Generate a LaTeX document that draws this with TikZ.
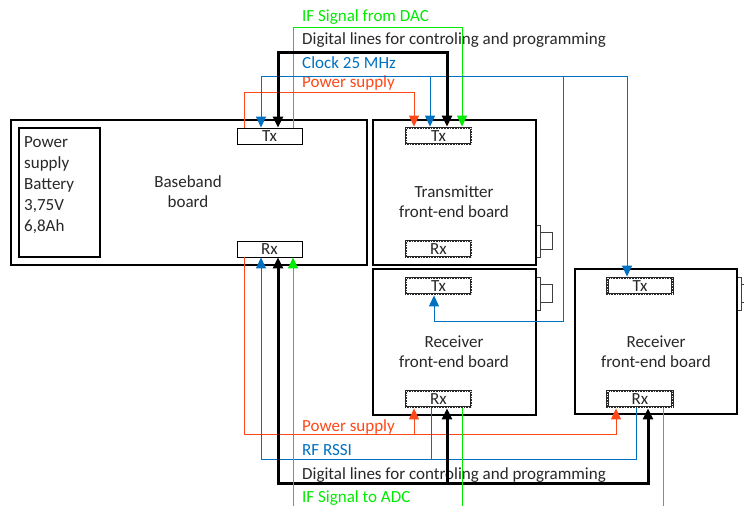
\documentclass[tikz,border=0pt]{standalone}
\usepackage{fontspec}
\setmainfont{Carlito}
\usetikzlibrary{arrows.meta}

\definecolor{pwred}{RGB}{255,72,24}
\definecolor{clkblue}{RGB}{0,112,192}
\definecolor{ifgreen}{RGB}{0,235,0}
\definecolor{txtgray}{RGB}{40,40,40}

\tikzset{
  board/.style={draw=black, line width=2pt, fill=white, inner sep=0pt},
  port/.style={draw=black, line width=0.9pt, fill=white, inner sep=0pt,
    minimum width=65pt, minimum height=16pt},
  feport/.style={draw=black!85, line width=2.8pt, fill=white, inner sep=0pt,
    minimum width=65pt, minimum height=16pt,
    postaction={draw=white, line width=0.9pt, dash pattern=on 0.9pt off 1.8pt}},
  plug/.style={draw=black!75, line width=1pt, fill=white},
  lbl/.style={anchor=west, inner sep=0pt},
  tip/.style={-{Triangle[length=11pt,width=10pt]}},
  tips/.style={{Triangle[length=11pt,width=10pt]}-{Triangle[length=11pt,width=10pt]}},
  pwline/.style={draw=pwred, line width=1pt},
  clkline/.style={draw=clkblue, line width=1pt},
  ifline/.style={draw=ifgreen, line width=1pt},
  digline/.style={draw=black, line width=3pt},
}

\begin{document}
\begin{tikzpicture}[x=1pt, y=-1pt, font=\fontsize{17}{20}\selectfont, text=txtgray]
  \useasboundingbox (0,0) rectangle (744,506);
  \clip (0,0) rectangle (744,506);

  % Boards
  \node[board, minimum width=356pt, minimum height=145pt] (bb) at (189,192.5) {};
  \node[board, minimum width=81pt, minimum height=129pt] (bat) at (59.5,192.5) {};
  \node[anchor=west, align=left, inner sep=0pt, font=\fontsize{17}{21}\selectfont]
    (battxt) at (24,185) {Power\\supply\\Battery\\3,75V\\6,8Ah};
  \node[align=center] (bbtxt) at (188,192) {Baseband\\board};
  \node[port] (bbtx) at (269.5,136) {Tx};
  \node[port] (bbrx) at (269.5,249) {Rx};

  \draw[plug] (536,225) rectangle (540,257) (540,232) rectangle (552,249);
  \node[board, minimum width=163pt, minimum height=145pt] (tfe) at (454.5,192.5) {};
  \node[align=center] (tfetxt) at (454,202) {Transmitter\\front-end board};
  \node[feport] (tftx) at (438.5,136) {Tx};
  \node[feport] (tfrx) at (438.5,249) {Rx};

  \draw[plug] (536,277) rectangle (540,310) (540,284) rectangle (552,302);
  \node[board, minimum width=163pt, minimum height=146pt] (rfa) at (454.5,342) {};
  \node[align=center] (rfatxt) at (454,352) {Receiver\\front-end board};
  \node[feport] (ratx) at (438.5,286) {Tx};
  \node[feport] (rarx) at (438.5,399) {Rx};

  \draw[plug] (737,277) rectangle (741,310) (741,284) rectangle (753,302);
  \node[board, minimum width=162pt, minimum height=145pt] (rfb) at (656,341.5) {};
  \node[align=center] (rfbtxt) at (656,352) {Receiver\\front-end board};
  \node[feport] (rbtx) at (640,286) {Tx};
  \node[feport] (rbrx) at (640,399) {Rx};

  % Line labels
  \node[lbl, text=ifgreen] (iftop) at (302,17) {IF Signal from DAC};
  \node[lbl] (digtop) at (302,40) {Digital lines for controling and programming};
  \node[lbl, text=clkblue] (clktop) at (302,63) {Clock 25 MHz};
  \node[lbl, text=pwred] (pwtop) at (302,83) {Power supply};
  \node[lbl, text=pwred] (pwbot) at (302,427) {Power supply};
  \node[lbl, text=clkblue] (rssibot) at (302,450) {RF RSSI};
  \node[lbl] (digbot) at (302,475) {Digital lines for controling and programming};
  \node[lbl, text=ifgreen] (ifbot) at (302,498) {IF Signal to ADC};

  % Bus corners
  \coordinate (ifA) at (293,27);   \coordinate (ifB) at (462,27);
  \coordinate (dgA) at (278,52);   \coordinate (dgB) at (447,52);
  \coordinate (ckA) at (261,76);   \coordinate (ckB) at (627,76);
  \coordinate (ckT) at (430,76);   \coordinate (ckR) at (563,76);
  \coordinate (ckL) at (434,321);
  \coordinate (pwA) at (244,92);   \coordinate (pwB) at (414,92);

  \coordinate (psA) at (244,434);  \coordinate (psB) at (616,434);
  \coordinate (psT) at (414,434);
  \coordinate (rsA) at (261,459);  \coordinate (rsB) at (636,459);
  \coordinate (rsT) at (431,459);
  \coordinate (dbA) at (278,483);  \coordinate (dbB) at (648,483);
  \coordinate (dbT) at (447,483);
  \coordinate (adA) at (293,506);  \coordinate (adB) at (462,506);
  \coordinate (adC) at (663,506);

  % Transmit side
  \draw[ifline, tip] (bbtx.north -| ifA) -- (ifA) -- (ifB) -- (ifB |- tftx.north);
  \draw[pwline, tip] (bbtx.north -| pwA) -- (pwA) -- (pwB) -- (pwB |- tftx.north);
  \draw[clkline, tips] (ckA |- bbtx.north) -- (ckA) -- (ckB) -- (ckB |- rbtx.north);
  \draw[clkline, tip] (ckT) -- (ckT |- tftx.north);
  \draw[clkline, tip] (ckR) -- (ckR |- ckL) -- (ckL) -- (ckL |- ratx.south);
  \draw[digline, tips] (dgA |- bbtx.north) -- (dgA) -- (dgB) -- (dgB |- tftx.north);

  % Receive side
  \draw[pwline, tip] (bbrx.south -| psA) -- (psA) -- (psB) -- (psB |- rbrx.south);
  \draw[pwline, tip] (psT) -- (psT |- rarx.south);
  \draw[clkline, tip] (rsB |- rbrx.south) -- (rsB) -- (rsA) -- (rsA |- bbrx.south);
  \draw[clkline] (rsT |- rarx.south) -- (rsT);
  \draw[digline, tips] (dbA |- bbrx.south) -- (dbA) -- (dbB) -- (dbB |- rbrx.south);
  \draw[digline, tip] (dbT) -- (dbT |- rarx.south);
  \draw[ifline, tip] (adA) -- (adA |- bbrx.south);
  \draw[ifline] (adB |- rarx.south) -- (adB);
  \draw[ifline] (adC |- rbrx.south) -- (adC);
\end{tikzpicture}
\end{document}
